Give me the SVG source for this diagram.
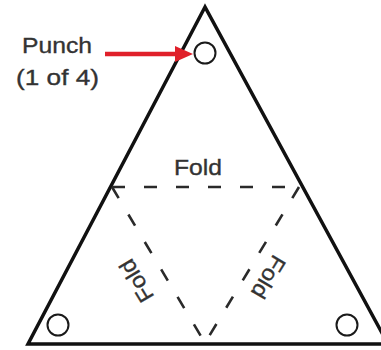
<svg xmlns="http://www.w3.org/2000/svg" width="381" height="350" viewBox="0 0 381 350">
  <style>
    .outline { fill: none; stroke: #111; stroke-width: 3.5; stroke-linejoin: miter; }
    .hole { fill: none; stroke: #1a1a1a; stroke-width: 2; }
    .fold { fill: none; stroke: #2a2a2a; stroke-width: 2.6; stroke-dasharray: 13 19; }
    .lbl { font-family: "Liberation Sans", Arial, sans-serif; font-size: 22px; fill: #333; stroke: #333; stroke-width: 0.35; }
  </style>
  <rect width="381" height="350" fill="#fff"/>
  <g id="sheet">
    <polygon class="outline" points="205,7 28,344 388,344"/>
  </g>
  <g id="holes">
    <circle class="hole" cx="205" cy="53" r="10.5"/>
    <circle class="hole" cx="58" cy="325" r="10.5"/>
    <circle class="hole" cx="347" cy="325" r="10.5"/>
  </g>
  <g id="connectors">
    <line class="fold" x1="112" y1="187" x2="299" y2="187"/>
    <line class="fold" x1="112" y1="187" x2="205" y2="343"/>
    <line class="fold" x1="299" y1="187" x2="205" y2="343"/>
    <line x1="105" y1="54" x2="180" y2="54" stroke="#e0202a" stroke-width="4.5"/>
    <polygon points="193,54 175,46 175,62" fill="#e0202a"/>
  </g>
  <g id="punch-label">
    <text class="lbl" x="22" y="53" textLength="70" lengthAdjust="spacingAndGlyphs">Punch</text>
    <text class="lbl" x="16" y="85" textLength="83" lengthAdjust="spacingAndGlyphs">(1 of 4)</text>
  </g>
  <g id="fold-top">
    <text class="lbl" x="198" y="175" text-anchor="middle" textLength="48" lengthAdjust="spacingAndGlyphs">Fold</text>
  </g>
  <g id="fold-left">
    <text class="lbl" text-anchor="middle" textLength="46" lengthAdjust="spacingAndGlyphs" transform="translate(143,277) rotate(239)">Fold</text>
  </g>
  <g id="fold-right">
    <text class="lbl" text-anchor="middle" textLength="46" lengthAdjust="spacingAndGlyphs" transform="translate(262,273) rotate(121)">Fold</text>
  </g>
</svg>
